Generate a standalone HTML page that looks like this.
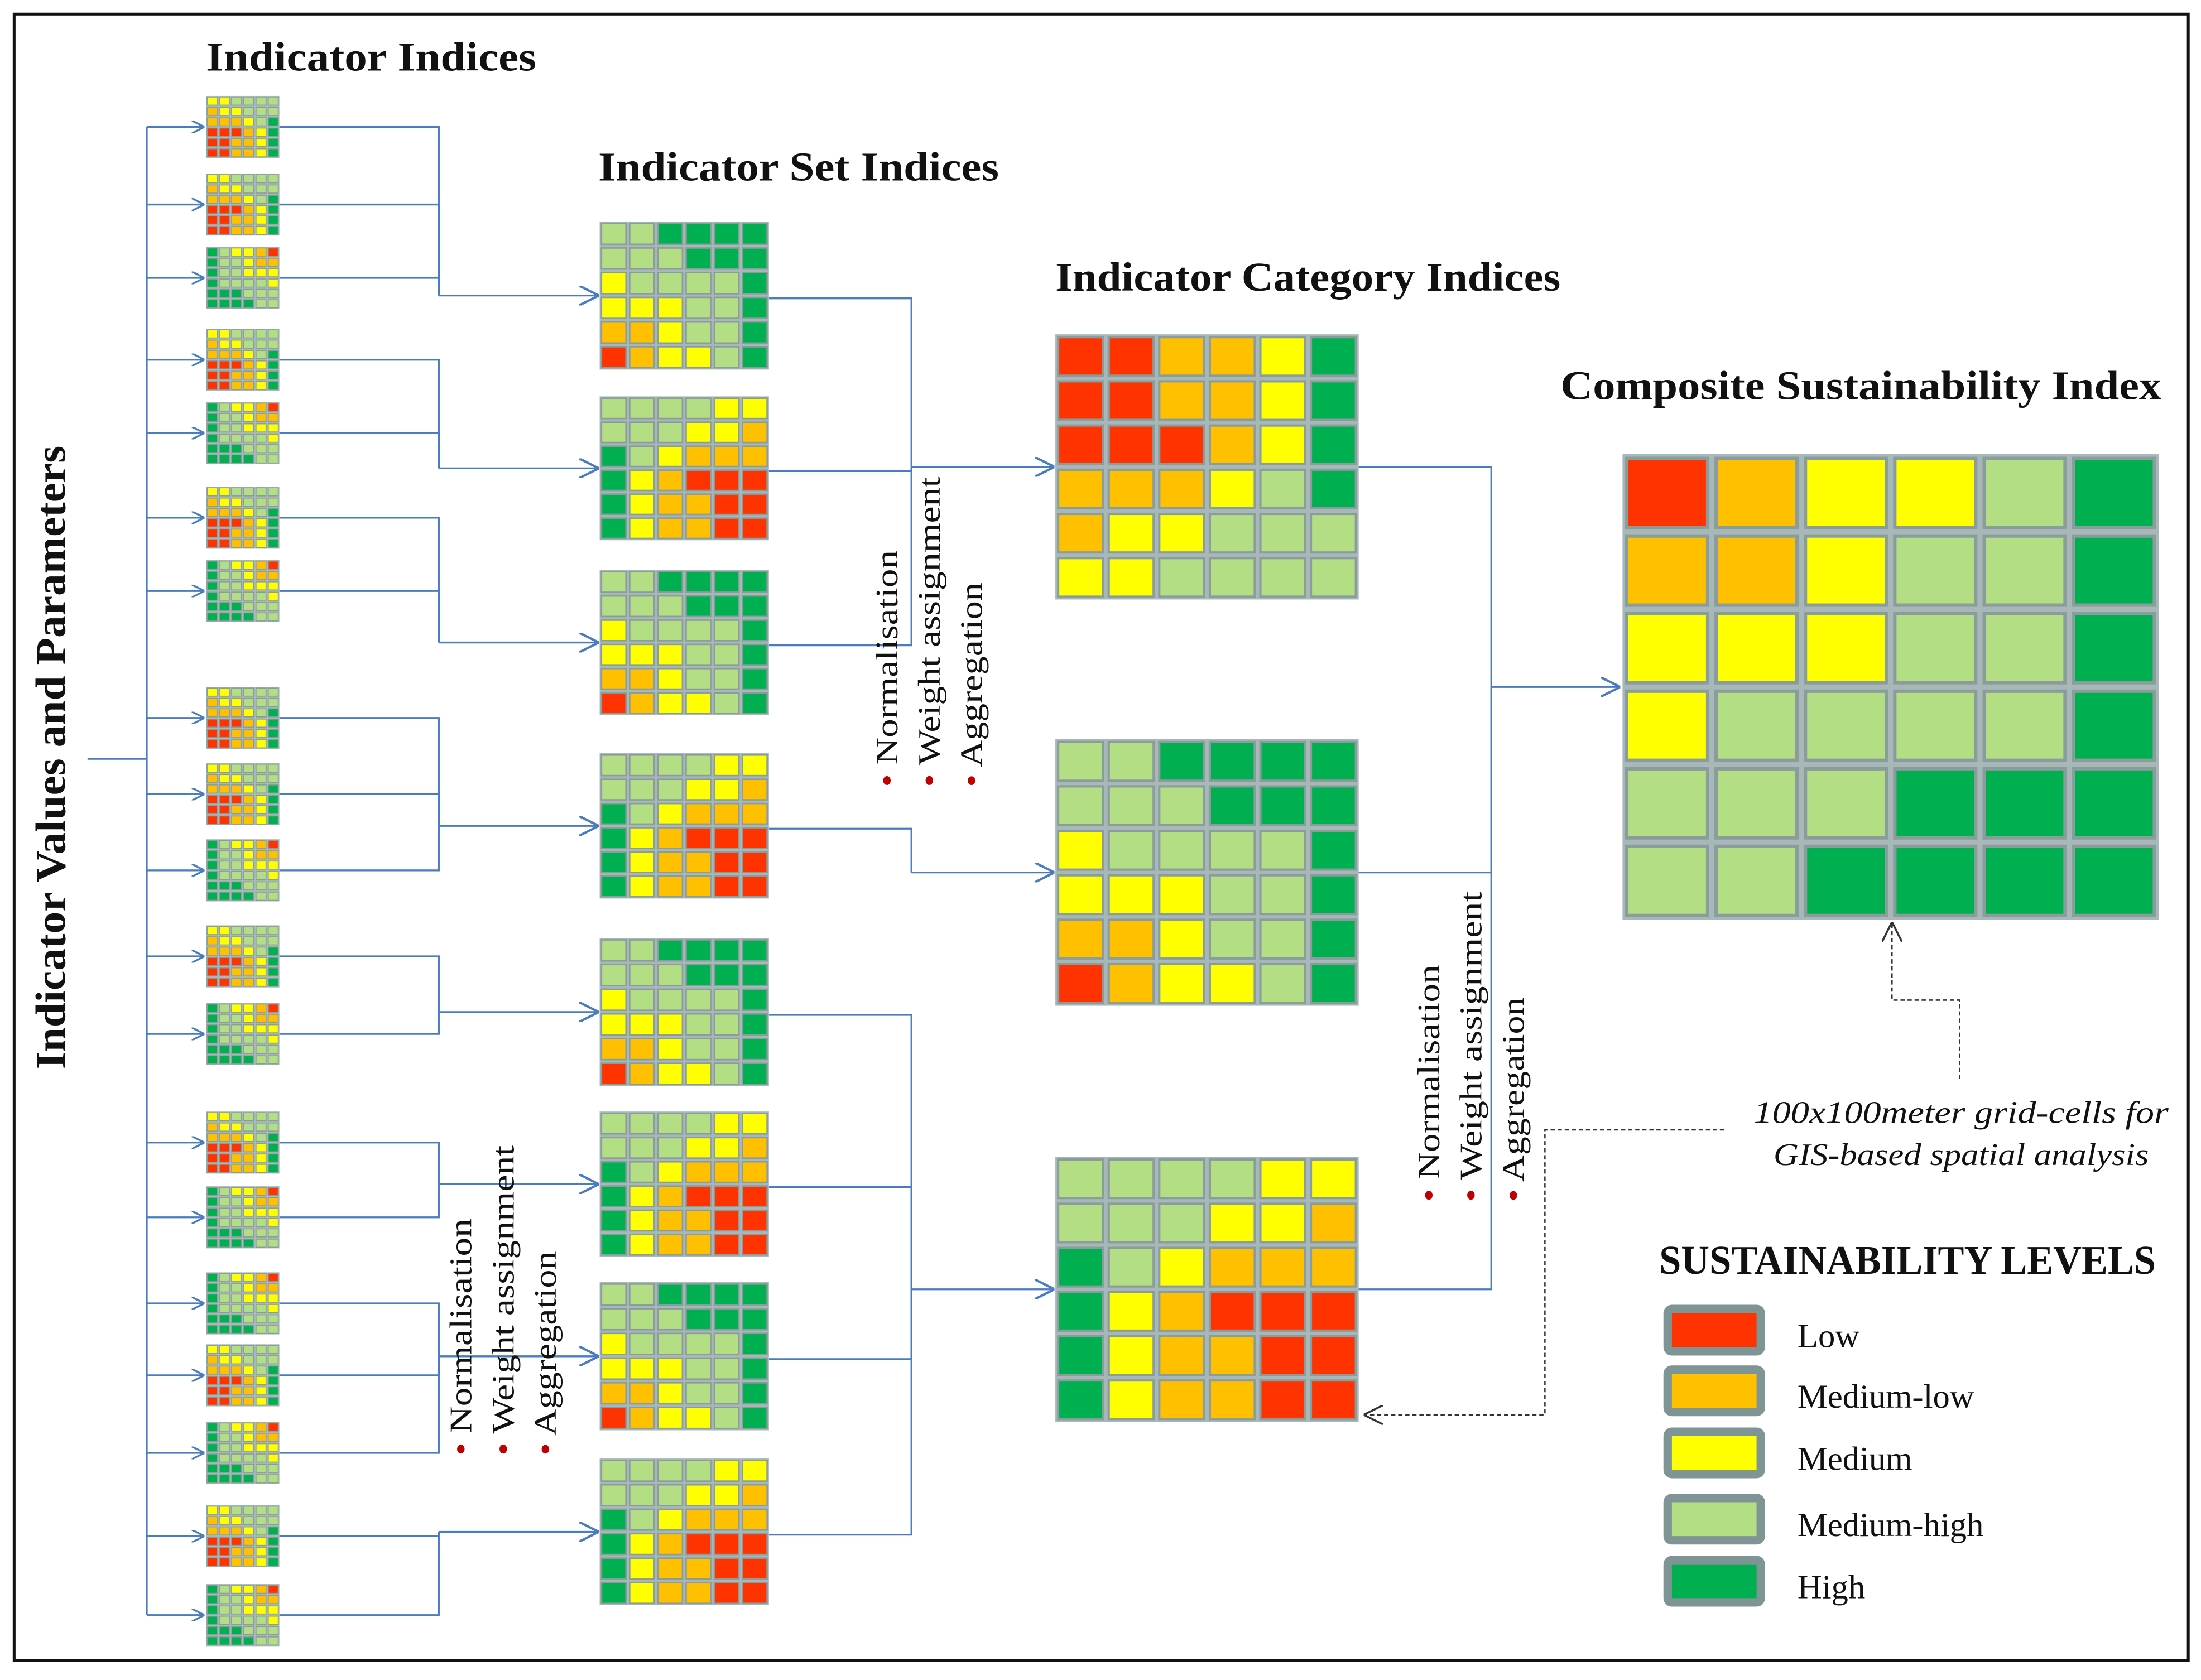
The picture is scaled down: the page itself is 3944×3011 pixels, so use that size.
<!DOCTYPE html>
<html><head><meta charset="utf-8"><style>
html,body{margin:0;padding:0;background:#fff}
svg{display:block}
text{font-family:"Liberation Serif",serif;fill:#111}
</style></head><body>
<svg id="s" width="3944" height="3011" viewBox="0 0 1560 1191" xmlns="http://www.w3.org/2000/svg">
<defs><marker id="ar" viewBox="0 0 10 10" refX="9" refY="5" markerWidth="9" markerHeight="9" orient="auto" markerUnits="userSpaceOnUse"><path d="M0,0 L10,5 L0,10" fill="none" stroke="#4a7cc0" stroke-width="1.5"/></marker>
<marker id="ar2" viewBox="0 0 10 10" refX="9" refY="5" markerWidth="14" markerHeight="14" orient="auto" markerUnits="userSpaceOnUse"><path d="M0,0 L10,5 L0,10" fill="none" stroke="#4a7cc0" stroke-width="1.2"/></marker>
<marker id="ak" viewBox="0 0 10 10" refX="9" refY="5" markerWidth="14" markerHeight="14" orient="auto" markerUnits="userSpaceOnUse"><path d="M0,0 L10,5 L0,10" fill="none" stroke="#333" stroke-width="1"/></marker></defs>
<rect x="10" y="10" width="1541" height="1167" fill="none" stroke="#111" stroke-width="2"/>
<g id="lines"></g><g id="grids"></g>
<text x="146" y="50" font-size="29" font-weight="bold" textLength="234" lengthAdjust="spacingAndGlyphs">Indicator Indices</text>
<text x="424" y="128" font-size="29" font-weight="bold" textLength="284" lengthAdjust="spacingAndGlyphs">Indicator Set Indices</text>
<text x="748" y="206" font-size="29" font-weight="bold" textLength="358" lengthAdjust="spacingAndGlyphs">Indicator Category Indices</text>
<text x="1106" y="283" font-size="29" font-weight="bold" textLength="426" lengthAdjust="spacingAndGlyphs">Composite Sustainability Index</text>
<text transform="translate(46,537) rotate(-90)" text-anchor="middle" font-size="30" font-weight="bold" textLength="442" lengthAdjust="spacingAndGlyphs">Indicator Values and Parameters</text>
<g font-size="22">
<text transform="translate(334,1032) rotate(-90)" textLength="168" lengthAdjust="spacingAndGlyphs"><tspan fill="#c00000">•</tspan> Normalisation</text>
<text transform="translate(364,1032) rotate(-90)" textLength="220" lengthAdjust="spacingAndGlyphs"><tspan fill="#c00000">•</tspan> Weight assignment</text>
<text transform="translate(394,1032) rotate(-90)" textLength="145" lengthAdjust="spacingAndGlyphs"><tspan fill="#c00000">•</tspan> Aggregation</text></g>
<g font-size="22">
<text transform="translate(636,558) rotate(-90)" textLength="168" lengthAdjust="spacingAndGlyphs"><tspan fill="#c00000">•</tspan> Normalisation</text>
<text transform="translate(666,558) rotate(-90)" textLength="220" lengthAdjust="spacingAndGlyphs"><tspan fill="#c00000">•</tspan> Weight assignment</text>
<text transform="translate(696,558) rotate(-90)" textLength="145" lengthAdjust="spacingAndGlyphs"><tspan fill="#c00000">•</tspan> Aggregation</text></g>
<g font-size="22">
<text transform="translate(1020,852) rotate(-90)" textLength="168" lengthAdjust="spacingAndGlyphs"><tspan fill="#c00000">•</tspan> Normalisation</text>
<text transform="translate(1050,852) rotate(-90)" textLength="220" lengthAdjust="spacingAndGlyphs"><tspan fill="#c00000">•</tspan> Weight assignment</text>
<text transform="translate(1080,852) rotate(-90)" textLength="145" lengthAdjust="spacingAndGlyphs"><tspan fill="#c00000">•</tspan> Aggregation</text></g>
<g font-size="22" font-style="italic" text-anchor="middle">
<text x="1390" y="796" textLength="294" lengthAdjust="spacingAndGlyphs">100x100meter grid-cells for</text><text x="1390" y="826" textLength="266" lengthAdjust="spacingAndGlyphs">GIS-based spatial analysis</text></g>
<path d="M1389,765 V709 H1341 V655" fill="none" stroke="#333" stroke-dasharray="3,2" marker-end="url(#ak)"/>
<path d="M1222,801 H1095 V1003 H968" fill="none" stroke="#333" stroke-dasharray="3,2" marker-end="url(#ak)"/>
<text x="1176" y="903" font-size="29" font-weight="bold" textLength="352" lengthAdjust="spacingAndGlyphs">SUSTAINABILITY LEVELS</text>
<g id="legend"></g>
</svg>
<script>
const COL=['#ff3300','#ffc000','#ffff00','#b3de83','#00b050'];
const LEVELS=['Low','Medium-low','Medium','Medium-high','High'];
const smallA=[[2,2,3,3,3,3],[1,2,2,3,3,3],[1,1,1,2,3,4],[0,0,0,1,2,4],[0,0,1,1,2,4],[0,0,1,1,2,4]];
const smallB=[[4,3,2,2,1,0],[4,3,3,2,1,1],[4,3,3,2,2,2],[4,3,3,3,3,2],[4,4,4,3,3,3],[4,4,4,4,3,3]];
const setS1=[[3,3,4,4,4,4],[3,3,3,4,4,4],[2,3,3,3,3,4],[2,2,2,3,3,4],[1,1,2,3,3,4],[0,1,2,2,3,4]];
const setS2=[[3,3,3,3,2,2],[3,3,3,2,2,1],[4,3,2,1,1,1],[4,2,1,0,0,0],[4,2,1,1,0,0],[4,2,1,1,0,0]];
const cat1=[[0,0,1,1,2,4],[0,0,1,1,2,4],[0,0,0,1,2,4],[1,1,1,2,3,4],[1,2,2,3,3,3],[2,2,3,3,3,3]];
const composite=[[0,1,2,2,3,4],[1,1,2,3,3,4],[2,2,2,3,3,4],[2,3,3,3,3,4],[3,3,3,4,4,4],[3,3,4,4,4,4]];
const smallY=[90,145,197,255,307,367,419,509,563,617,678,733,810,863,924,975,1030,1089,1145];
const smallType=['A','A','B','A','B','A','B','A','A','B','A','B','A','B','B','A','B','A','B'];
const smallGroup=[0,0,0,1,1,2,2,3,3,3,4,4,5,5,6,6,6,7,7];
const setTop=[157,281,404,534,665,788,909,1034];
const setBot=[262,383,507,637,770,891,1014,1138];
const setType=['S1','S2','S1','S2','S1','S2','S1','S2'];
const setCat=[0,0,0,1,2,2,2,2];
const catTop=[237,524,820], catBot=[425,713,1008];
const NS='http://www.w3.org/2000/svg';
const G=document.getElementById('grids'), L=document.getElementById('lines');
function el(t,a,p){const e=document.createElementNS(NS,t);for(const k in a)e.setAttribute(k,a[k]);p.appendChild(e);return e;}
function grid(m,x0,y0,x1,y1,name,sw){
  const g=el('g',{},G);
  
  
  el('rect',{x:x0,y:y0,width:x1-x0,height:y1-y0,fill:'#a8b8b8'},g);
  const cw=(x1-x0)/6,ch=(y1-y0)/6,p=sw;
  m.forEach((row,r)=>row.forEach((v,c)=>{
    const rc=el('rect',{x:x0+c*cw+p,y:y0+r*ch+p,width:cw-2*p,height:ch-2*p,fill:COL[v],stroke:'#8a9c9c','stroke-width':p*0.8},g);
    
    
  }));
}
function line(d,arrow,name){const p=el('path',{d:d,fill:'none',stroke:'#4a7cc0','stroke-width':1.3},L);if(arrow)p.setAttribute('marker-end','url(#'+arrow+')');}
line('M62,538 H104','', 'trunk-line');
line('M104,'+smallY[0]+' V'+smallY[smallY.length-1],'','trunk-vertical');
smallY.forEach((y,i)=>{
  line('M104,'+y+' H144','ar','arrow-to-indicator');
  grid(smallType[i]=='A'?smallA:smallB,146,y-22,198,y+22,'indicator-index-grid',0.8);
  const sc=(setTop[smallGroup[i]]+setBot[smallGroup[i]])/2;
  line('M198,'+y+' H311 V'+sc,'','indicator-to-set-line');
});
setTop.forEach((t,i)=>{
  const c=(t+setBot[i])/2;
  line('M311,'+c+' H423','ar2','arrow-to-set');
  grid(setType[i]=='S1'?setS1:setS2,425,t,545,setBot[i],'indicator-set-grid',1.3);
  const cc=(catTop[setCat[i]]+catBot[setCat[i]])/2;
  line('M545,'+(c+2)+' H646 V'+cc,'','set-to-category-line');
});
const catM=[cat1,setS1,setS2];
catTop.forEach((t,i)=>{
  const c=(t+catBot[i])/2;
  line('M646,'+c+' H746','ar2','arrow-to-category');
  grid(catM[i],748,t,963,catBot[i],'indicator-category-grid',2);
  line('M963,'+c+' H1057 V487','','category-to-composite-line');
});
line('M1057,487 H1147','ar2','arrow-to-composite');
grid(composite,1150,322,1530,652,'composite-index-grid',3);
const LG=document.getElementById('legend');
const legY=[943,986,1030,1077,1121];
LEVELS.forEach((n,i)=>{
  const r=el('rect',{x:1182,y:legY[i]-15,width:66,height:30,fill:COL[i],stroke:'#7f9494','stroke-width':6,rx:3},LG);
  
  
  const t=el('text',{x:1274,y:legY[i]+12,'font-size':24},LG);
  t.textContent=n;
  
  
});
</script>
</body></html>
